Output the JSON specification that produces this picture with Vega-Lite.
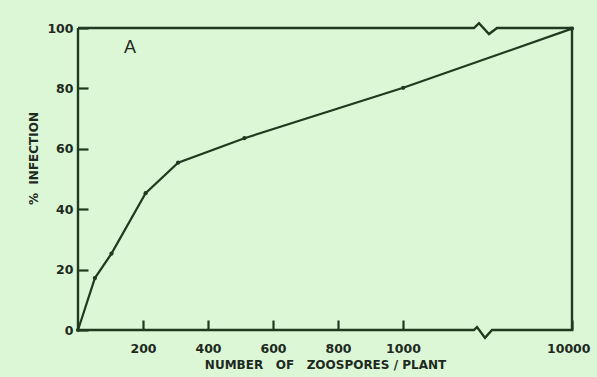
{
  "$schema": "https://vega.github.io/schema/vega-lite/v6.json",
  "width": 494,
  "height": 302,
  "autosize": {"type": "none"},
  "padding": {"left": 78, "top": 28, "right": 25, "bottom": 47},
  "background": "#dcf7d6",
  "config": {
    "view": {"stroke": null},
    "axis": {
      "grid": false,
      "domain": false,
      "tickColor": "#1f3a1f",
      "tickWidth": 2.2,
      "tickSize": -10,
      "labelColor": "#1e2a1e",
      "labelFont": "DejaVu Sans",
      "labelFontWeight": "bold",
      "labelFontSize": 12.5,
      "titleColor": "#1e2a1e",
      "titleFont": "DejaVu Sans",
      "titleFontWeight": "bold",
      "titleFontSize": 12
    }
  },
  "datasets": {
    "curve": [
      {"x": 0, "y": 0},
      {"x": 52, "y": 17.2},
      {"x": 103, "y": 25.3},
      {"x": 208, "y": 45.3},
      {"x": 308, "y": 55.4},
      {"x": 512, "y": 63.5},
      {"x": 1012, "y": 80.2},
      {"x": 10000, "y": 99.8}
    ],
    "frame": [
      {"i": 0, "x": 0, "y": 100},
      {"i": 1, "x": 4781, "y": 100},
      {"i": 2, "x": 5047, "y": 101.6},
      {"i": 3, "x": 5580, "y": 98},
      {"i": 4, "x": 6006, "y": 100},
      {"i": 5, "x": 10000, "y": 100},
      {"i": 6, "x": 10000, "y": 0},
      {"i": 7, "x": 5740, "y": 0},
      {"i": 8, "x": 5367, "y": -2.6},
      {"i": 9, "x": 4941, "y": 1.0},
      {"i": 10, "x": 4781, "y": 0},
      {"i": 11, "x": 0, "y": 0},
      {"i": 12, "x": 0, "y": 100}
    ],
    "label": [{"x": 160, "y": 93.5, "text": "A"}]
  },
  "encoding": {
    "x": {
      "field": "x",
      "type": "quantitative",
      "scale": {"domain": [0, 1000, 10000], "range": [0, 325, 494], "nice": false, "zero": false},
      "axis": {
        "values": [200, 400, 600, 800, 1000, 10000],
        "format": "d",
        "labelPadding": 22,
        "labelFlush": true,
        "labelFlushOffset": 18,
        "title": "NUMBER\u00a0\u00a0\u00a0OF\u00a0\u00a0\u00a0ZOOSPORES\u00a0/\u00a0PLANT",
        "titlePadding": 5
      }
    },
    "y": {
      "field": "y",
      "type": "quantitative",
      "scale": {"domain": [0, 100], "nice": false},
      "axis": {
        "values": [0, 20, 40, 60, 80, 100],
        "labelPadding": 15,
        "labelFlush": false,
        "title": "%\u00a0\u00a0INFECTION",
        "titlePadding": 6,
        "titleY": 130
      }
    }
  },
  "layer": [
    {
      "data": {"name": "frame"},
      "mark": {"type": "line", "color": "#1f3a1f", "strokeWidth": 2.4, "strokeJoin": "miter", "clip": false},
      "encoding": {"order": {"field": "i", "type": "quantitative"}}
    },
    {
      "data": {"name": "curve"},
      "mark": {"type": "line", "color": "#1f3a1f", "strokeWidth": 2.2, "point": {"filled": true, "size": 18, "color": "#1f3a1f"}}
    },
    {
      "data": {"name": "label"},
      "mark": {"type": "text", "font": "Liberation Sans", "fontSize": 18, "color": "#1e2a1e"},
      "encoding": {"text": {"field": "text", "type": "nominal"}}
    }
  ]
}
